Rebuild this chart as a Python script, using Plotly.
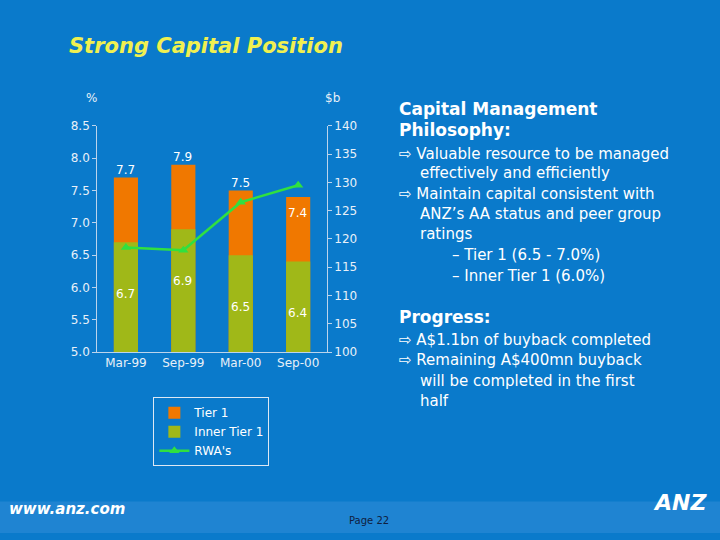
import plotly.graph_objects as go

periods = ["Mar-99", "Sep-99", "Mar-00", "Sep-00"]
tier1 = [7.7, 7.9, 7.5, 7.4]
inner_tier1 = [6.7, 6.9, 6.5, 6.4]
rwa = [118.5, 118.0, 126.5, 129.5]
base_pct = 5.0

fig = go.Figure()
fig.add_trace(go.Bar(x=periods, y=[v - base_pct for v in tier1], base=base_pct, name="Tier 1",
                     marker_color="#f07800", marker_line_width=0, width=0.42))
fig.add_trace(go.Bar(x=periods, y=[v - base_pct for v in inner_tier1], base=base_pct, name="Inner Tier 1",
                     marker_color="#a0b818", marker_line_width=0, width=0.42))
fig.add_trace(go.Scatter(x=periods, y=rwa, name="RWA's", yaxis="y2", mode="lines+markers",
                         line=dict(color="#30e040", width=2.5),
                         marker=dict(symbol="triangle-up", size=9, color="#30e040")))

tier_lbl_shift = [0.12, 0.12, 0.12, -0.25]
for i, p in enumerate(periods):
    fig.add_annotation(x=i - 0.21, y=tier1[i] + tier_lbl_shift[i], text=f"{tier1[i]}", showarrow=False,
                       xanchor="left", font=dict(color="white", size=12))
    fig.add_annotation(x=i - 0.21, y=inner_tier1[i] - 0.8, text=f"{inner_tier1[i]}", showarrow=False,
                       xanchor="left", font=dict(color="white", size=12))

ax = dict(color="#dde8f4", linecolor="#bcd4ec", showgrid=False, ticks="outside", ticklen=4,
          tickcolor="#bcd4ec", tickfont=dict(size=12, color="#e8f0f8"))
fig.update_layout(
    width=720, height=540, margin=dict(l=0, r=0, t=0, b=0),
    paper_bgcolor="#0a7acb", plot_bgcolor="rgba(0,0,0,0)",
    font=dict(family="DejaVu Sans", color="white"),
    barmode="overlay", showlegend=True,
    legend=dict(x=0.213, y=0.258, xanchor="left", yanchor="top", bgcolor="rgba(0,0,0,0)",
                bordercolor="#dde8f4", borderwidth=1, font=dict(size=12, color="white"),
                tracegroupgap=0, itemwidth=30),
    xaxis=dict(domain=[0.135, 0.454], showline=True, ticks="", tickfont=dict(size=12, color="#e8f0f8"),
               color="#dde8f4", linecolor="#bcd4ec"),
    yaxis=dict(range=[5, 8.5], dtick=0.5, tickformat=".1f", showline=True, anchor="x",
               domain=[0.344, 0.774], **ax),
    yaxis2=dict(range=[100, 140], dtick=5, overlaying="y", side="right", anchor="x", showline=True, **ax),
)
fig.add_annotation(x=0.093, y=0.926, xref="paper", yref="paper", text="<b><i>Strong Capital Position</i></b>",
                   showarrow=False, xanchor="left", yanchor="middle", font=dict(size=21, color="#f0f050"))
fig.add_annotation(x=0.117, y=0.81, xref="paper", yref="paper", text="%", showarrow=False,
                   yanchor="bottom", font=dict(size=12, color="#e8f0f8"))
fig.add_annotation(x=0.462, y=0.81, xref="paper", yref="paper", text="$b", showarrow=False,
                   yanchor="bottom", font=dict(size=12, color="#e8f0f8"))

right_lines = [
    (0.551, 0.806, "<b>Capital Management</b>", 17),
    (0.551, 0.766, "<b>Philosophy:</b>", 17),
    (0.551, 0.720, "\u21e8 Valuable resource to be managed", 15),
    (0.580, 0.685, "effectively and efficiently", 15),
    (0.551, 0.645, "\u21e8 Maintain capital consistent with", 15),
    (0.580, 0.607, "ANZ\u2019s AA status and peer group", 15),
    (0.580, 0.568, "ratings", 15),
    (0.625, 0.528, "\u2013 Tier 1 (6.5 - 7.0%)", 15),
    (0.625, 0.488, "\u2013 Inner Tier 1 (6.0%)", 15),
    (0.551, 0.410, "<b>Progress:</b>", 17),
    (0.551, 0.367, "\u21e8 A$1.1bn of buyback completed", 15),
    (0.551, 0.328, "\u21e8 Remaining A$400mn buyback", 15),
    (0.580, 0.289, "will be completed in the first", 15),
    (0.580, 0.251, "half", 15),
]
for x, y, t, s in right_lines:
    fig.add_annotation(x=x, y=y, xref="paper", yref="paper", text=t, showarrow=False,
                       xanchor="left", yanchor="middle", font=dict(size=s, color="white"))

fig.add_annotation(x=0.01, y=0.025, xref="paper", yref="paper", text="<b><i>www.anz.com</i></b>",
                   showarrow=False, xanchor="left", font=dict(size=15, color="white"))
fig.add_annotation(x=0.513, y=0.01, xref="paper", yref="paper", text="Page 22", showarrow=False,
                   font=dict(size=10, color="#102040"))
fig.add_annotation(x=0.985, y=0.03, xref="paper", yref="paper", text="<b><i>ANZ</i></b>",
                   showarrow=False, xanchor="right", font=dict(size=22, color="white"))
fig.add_shape(type="rect", xref="paper", yref="paper", x0=0, x1=1, y0=0, y1=0.06,
              fillcolor="#1f84d2", line_width=0, layer="below")
fig.write_html("out.html", config={"displayModeBar": False},
               post_script="document.body.style.margin='0';document.body.style.overflow='hidden';")
